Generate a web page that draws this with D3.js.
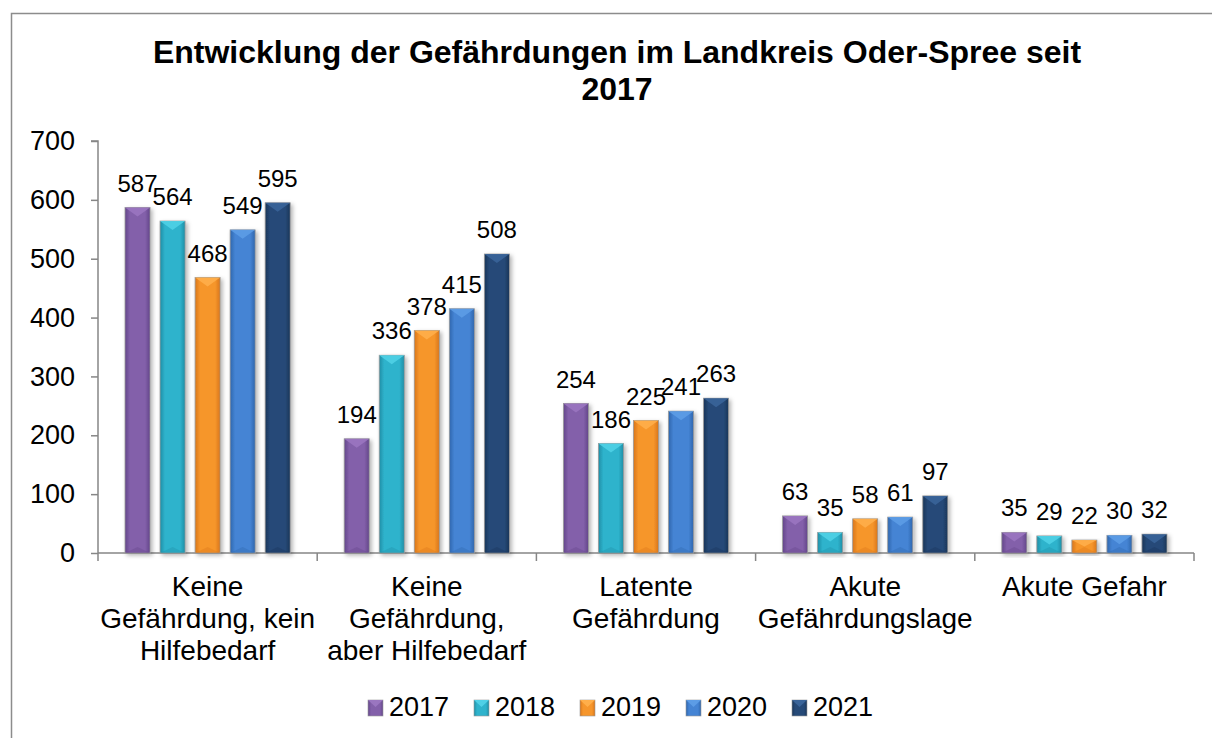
<!DOCTYPE html>
<html>
<head>
<meta charset="utf-8">
<script src="https://cdn.jsdelivr.net/npm/d3@7"></script>
<style>
  body { margin: 0; background: #fff; }
  svg { font-family: 'Liberation Sans', Arial, sans-serif; }
</style>
</head>
<body>
<svg id="chart" width="1212" height="738"></svg>
<script>
const categories = [
  ['Keine', 'Gefährdung, kein', 'Hilfebedarf'],
  ['Keine', 'Gefährdung,', 'aber Hilfebedarf'],
  ['Latente', 'Gefährdung'],
  ['Akute', 'Gefährdungslage'],
  ['Akute Gefahr']
]
const years = ['2017', '2018', '2019', '2020', '2021']
const values2017 = [587, 194, 254, 63, 35]
const values2018 = [564, 336, 186, 35, 29]
const values2019 = [468, 378, 225, 58, 22]
const values2020 = [549, 415, 241, 61, 30]
const values2021 = [595, 508, 263, 97, 32]
const yTicks = [0, 100, 200, 300, 400, 500, 600, 700]

const series = [values2017, values2018, values2019, values2020, values2021]
// [light, mid, dark] per year
const colors = [
  ['#9a76c0', '#8360aa', '#63468a'],
  ['#4fd0e6', '#2fb3cc', '#1f8ea6'],
  ['#ffae4a', '#f6962c', '#d9761a'],
  ['#5c9ce6', '#4584d4', '#2f66ad'],
  ['#3a6499', '#264a78', '#1a3558']
]

const svg = d3.select('#chart')
const defs = svg.append('defs')

colors.forEach((c, i) => {
  const g = defs.append('linearGradient').attr('id', 'grad' + i)
    .attr('x1', 0).attr('x2', 1).attr('y1', 0).attr('y2', 0)
  g.append('stop').attr('offset', '0%').attr('stop-color', c[2])
  g.append('stop').attr('offset', '20%').attr('stop-color', c[1])
  g.append('stop').attr('offset', '80%').attr('stop-color', c[1])
  g.append('stop').attr('offset', '100%').attr('stop-color', c[2])
})
const shadow = defs.append('filter').attr('id', 'shadow')
  .attr('x', '-30%').attr('y', '-10%').attr('width', '160%').attr('height', '130%')
shadow.append('feDropShadow').attr('dx', 2).attr('dy', 2).attr('stdDeviation', 2)
  .attr('flood-color', '#000').attr('flood-opacity', 0.3)

// outer frame
svg.append('rect').attr('x', 11.5).attr('y', 13.5).attr('width', 1240).attr('height', 760)
  .attr('fill', 'none').attr('stroke', '#8c8c8c').attr('stroke-width', 1.5)

// title
svg.append('text').attr('x', 617).attr('y', 63).attr('text-anchor', 'middle')
  .attr('font-size', 32).attr('font-weight', 'bold')
  .text('Entwicklung der Gefährdungen im Landkreis Oder-Spree seit')
svg.append('text').attr('x', 617).attr('y', 100).attr('text-anchor', 'middle')
  .attr('font-size', 32).attr('font-weight', 'bold')
  .text('2017')

const margin = { left: 98, right: 1194, top: 141, bottom: 553 }

const y = d3.scaleLinear().domain([0, 700]).range([margin.bottom, margin.top])
const x0 = d3.scaleBand().domain(d3.range(categories.length))
  .range([margin.left, margin.right]).paddingInner(0).paddingOuter(0)
const x1 = d3.scaleBand().domain(d3.range(years.length))
  .range([27, x0.bandwidth() - 27]).paddingInner(0.285).paddingOuter(0)

// y axis
const yAxis = svg.append('g').attr('transform', `translate(${margin.left},0)`)
  .call(d3.axisLeft(y).tickValues(yTicks).tickSize(7).tickPadding(16))
yAxis.select('.domain').attr('stroke', '#868686').attr('stroke-width', 1.5)
  .attr('d', `M-7,${y(700)}H0V${y(0)}`)
yAxis.selectAll('.tick line').attr('stroke', '#868686').attr('stroke-width', 1.5)
yAxis.selectAll('.tick text').attr('font-size', 27).attr('fill', '#000')
  .attr('font-family', 'Liberation Sans, Arial, sans-serif')

// x axis line + boundary ticks
const xg = svg.append('g')
xg.append('line').attr('x1', margin.left).attr('x2', margin.right)
  .attr('y1', y(0)).attr('y2', y(0)).attr('stroke', '#868686').attr('stroke-width', 1.5)
xg.selectAll('line.tk').data(d3.range(categories.length + 1)).enter().append('line')
  .attr('class', 'tk')
  .attr('x1', d => margin.left + d * x0.bandwidth())
  .attr('x2', d => margin.left + d * x0.bandwidth())
  .attr('y1', y(0)).attr('y2', y(0) + 8)
  .attr('stroke', '#868686').attr('stroke-width', 1.5)

// category labels
categories.forEach((lines, i) => {
  const t = svg.append('text').attr('text-anchor', 'middle').attr('font-size', 28)
  lines.forEach((l, j) => {
    t.append('tspan').attr('x', x0(i) + x0.bandwidth() / 2).attr('y', 596 + j * 32).text(l)
  })
})

// bars
const bars = svg.append('g')
series.forEach((vals, s) => {
  const g = bars.append('g')
  vals.forEach((v, i) => {
    const bx = x0(i) + x1(s)
    const bw = x1.bandwidth()
    const by = y(v)
    const bh = y(0) - y(v)
    g.append('rect').attr('x', bx).attr('y', by).attr('width', bw).attr('height', bh)
      .attr('fill', `url(#grad${s})`).attr('stroke', '#9a9a9a').attr('stroke-width', 0.8)
      .attr('filter', 'url(#shadow)')
    const bev = Math.min(bw / 2, bh / 2, 9)
    g.append('path')
      .attr('d', `M${bx},${by}L${bx + bw},${by}L${bx + bw / 2},${by + bev}Z`)
      .attr('fill', colors[s][0]).attr('opacity', 0.9)
    g.append('path')
      .attr('d', `M${bx},${by + bh}L${bx + bw},${by + bh}L${bx + bw / 2},${by + bh - Math.min(bev, 6)}Z`)
      .attr('fill', colors[s][2]).attr('opacity', 0.35)
    g.append('text').attr('x', bx + bw / 2).attr('y', by - 16)
      .attr('text-anchor', 'middle').attr('font-size', 24).text(v)
  })
})

// legend
const legend = svg.append('g')
years.forEach((yr, s) => {
  const lx = 368 + s * 106
  legend.append('rect').attr('x', lx).attr('y', 700).attr('width', 15).attr('height', 16)
    .attr('fill', `url(#grad${s})`).attr('stroke', '#9a9a9a').attr('stroke-width', 0.6)
  legend.append('path').attr('d', `M${lx},700L${lx + 15},700L${lx + 7.5},707Z`)
    .attr('fill', colors[s][0])
  legend.append('text').attr('x', lx + 21).attr('y', 716).attr('font-size', 27).text(yr)
})
</script>
</body>
</html>
